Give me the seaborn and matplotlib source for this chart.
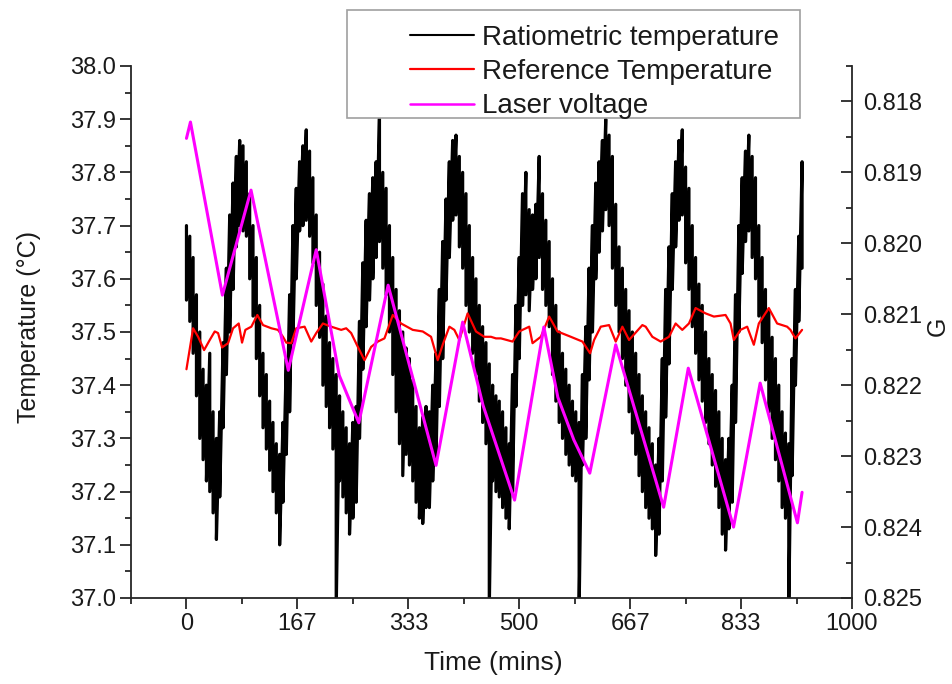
import numpy as np
import pandas as pd
import matplotlib
matplotlib.use("Agg")
import matplotlib.pyplot as plt
from matplotlib.lines import Line2D
from matplotlib.patches import Rectangle
from matplotlib.ticker import MultipleLocator
import seaborn as sns

sns.set_style("ticks")
plt.rcParams['font.family'] = ['Liberation Sans', 'DejaVu Sans']

# Ratiometric temperature (noisy trace) - upper / lower edge of the band every 5 min
ratio_t = np.arange(0, 930, 5)
ratio_hi = [
    37.70, 37.68, 37.64, 37.57, 37.50, 37.43, 37.40, 37.46, 37.35, 37.30,
    37.35, 37.48, 37.62, 37.72, 37.78, 37.83, 37.86, 37.85, 37.82, 37.76,
    37.70, 37.64, 37.55, 37.46, 37.42, 37.37, 37.33, 37.29, 37.27, 37.33,
    37.45, 37.57, 37.70, 37.77, 37.82, 37.85, 37.88, 37.84, 37.79, 37.72,
    37.65, 37.59, 37.53, 37.48, 37.45, 37.42, 37.38, 37.35, 37.32, 37.29,
    37.33, 37.36, 37.52, 37.63, 37.71, 37.76, 37.79, 37.82, 37.91, 37.80,
    37.77, 37.70, 37.64, 37.58, 37.54, 37.50, 37.47, 37.45, 37.41, 37.36,
    37.32, 37.34, 37.36, 37.35, 37.40, 37.46, 37.58, 37.67, 37.75, 37.82,
    37.86, 37.87, 37.83, 37.80, 37.76, 37.70, 37.64, 37.60, 37.55, 37.51,
    37.48, 37.44, 37.40, 37.38, 37.37, 37.35, 37.32, 37.29, 37.42, 37.55,
    37.64, 37.76, 37.80, 37.73, 37.72, 37.74, 37.83, 37.76, 37.71, 37.67,
    37.60, 37.55, 37.50, 37.46, 37.43, 37.40, 37.37, 37.35, 37.33, 37.42,
    37.51, 37.62, 37.70, 37.78, 37.82, 37.86, 37.90, 37.87, 37.83, 37.74,
    37.66, 37.62, 37.58, 37.54, 37.50, 37.46, 37.42, 37.38, 37.35, 37.32,
    37.29, 37.25, 37.30, 37.45, 37.58, 37.66, 37.76, 37.82, 37.86, 37.88,
    37.81, 37.77, 37.70, 37.64, 37.59, 37.55, 37.50, 37.45, 37.42, 37.39,
    37.35, 37.30, 37.26, 37.30, 37.40, 37.57, 37.70, 37.79, 37.84, 37.87,
    37.83, 37.79, 37.70, 37.64, 37.58, 37.54, 37.49, 37.45, 37.40, 37.35,
    37.31, 37.29, 37.45, 37.58, 37.68, 37.82,
]
ratio_lo = [
    37.56, 37.52, 37.46, 37.38, 37.30, 37.26, 37.22, 37.20, 37.16, 37.11,
    37.19, 37.32, 37.42, 37.50, 37.58, 37.66, 37.70, 37.69, 37.68, 37.60,
    37.53, 37.45, 37.38, 37.32, 37.28, 37.24, 37.20, 37.16, 37.10, 37.18,
    37.27, 37.35, 37.48, 37.60, 37.69, 37.70, 37.71, 37.68, 37.63, 37.55,
    37.49, 37.40, 37.36, 37.32, 37.28, 36.98, 37.22, 37.19, 37.16, 37.12,
    37.15, 37.18, 37.30, 37.43, 37.51, 37.56, 37.60, 37.64, 37.67, 37.62,
    37.57, 37.50, 37.42, 37.35, 37.29, 37.23, 37.27, 37.25, 37.22, 37.18,
    37.15, 37.14, 37.17, 37.17, 37.22, 37.26, 37.36, 37.45, 37.56, 37.64,
    37.71, 37.72, 37.66, 37.62, 37.55, 37.50, 37.46, 37.42, 37.37, 37.33,
    37.29, 36.98, 37.22, 37.20, 37.19, 37.17, 37.15, 37.13, 37.20, 37.36,
    37.45, 37.55, 37.57, 37.54, 37.58, 37.60, 37.64, 37.58, 37.55, 37.51,
    37.42, 37.37, 37.33, 37.30, 37.27, 37.25, 37.23, 37.22, 36.98, 37.25,
    37.30, 37.41, 37.50, 37.60, 37.65, 37.69, 37.73, 37.70, 37.62, 37.55,
    37.50, 37.45, 37.40, 37.35, 37.31, 37.27, 37.23, 37.20, 37.17, 37.15,
    37.13, 37.08, 37.12, 37.22, 37.34, 37.44, 37.58, 37.66, 37.71, 37.72,
    37.63, 37.58, 37.51, 37.46, 37.41, 37.37, 37.33, 37.29, 37.25, 37.21,
    37.17, 37.12, 37.09, 37.13, 37.18, 37.33, 37.50, 37.61, 37.67, 37.69,
    37.64, 37.60, 37.53, 37.48, 37.41, 37.35, 37.30, 37.26, 37.22, 37.17,
    37.15, 36.98, 37.23, 37.40, 37.52, 37.62,
]

# Reference temperature
ref_t = [0, 10, 17.5, 26.5, 35, 42.5, 47.5, 53.5, 62.5, 70, 78.5, 83.5, 88.5, 97.5,
         106.5, 115, 127.5, 137.5, 145, 150, 157.5, 165, 177.5, 187.5, 195, 205,
         217.5, 232.5, 240, 247.5, 257.5, 267.5, 277.5, 287.5, 297.5, 310, 322.5,
         340, 355, 367.5, 377.5, 385, 395, 402.5, 410, 422.5, 435, 447.5, 457.5,
         465, 472.5, 490, 500, 515, 520, 532.5, 545, 557.5, 577.5, 595, 606.5,
         612.5, 622.5, 635, 645, 655, 665, 685, 690, 700, 712.5, 725, 735, 745,
         755, 765, 780, 792.5, 810, 817.5, 822.5, 832.5, 842.5, 852.5, 860, 875,
         887.5, 902.5, 907.5, 915, 925]
ref_T = [37.43, 37.507, 37.491, 37.466, 37.485, 37.501, 37.498, 37.471, 37.479,
         37.507, 37.516, 37.48, 37.504, 37.51, 37.532, 37.513, 37.507, 37.504,
         37.491, 37.48, 37.479, 37.507, 37.51, 37.482, 37.498, 37.516, 37.51,
         37.504, 37.507, 37.498, 37.472, 37.447, 37.472, 37.482, 37.488, 37.532,
         37.516, 37.504, 37.501, 37.491, 37.447, 37.476, 37.51, 37.504, 37.485,
         37.535, 37.501, 37.491, 37.491, 37.488, 37.488, 37.482, 37.501, 37.51,
         37.479, 37.491, 37.529, 37.501, 37.491, 37.482, 37.46, 37.485, 37.51,
         37.513, 37.482, 37.51, 37.485, 37.513, 37.51, 37.491, 37.482, 37.491,
         37.516, 37.504, 37.516, 37.545, 37.535, 37.529, 37.532, 37.516, 37.485,
         37.504, 37.51, 37.476, 37.516, 37.545, 37.516, 37.51, 37.504, 37.488,
         37.504]

# Laser voltage (G, right axis)
laser_t = [0, 6, 54, 97, 153, 195, 229.5, 259, 303, 375, 415, 445.5, 493, 537,
           558, 582, 606, 645, 717, 754, 822, 862, 918, 925]
laser_G = [0.81852, 0.81829, 0.82073, 0.81925, 0.82179, 0.82009, 0.82186, 0.82253,
           0.82059, 0.82313, 0.82111, 0.82228, 0.82362, 0.82118, 0.82217, 0.82277,
           0.82324, 0.82143, 0.82372, 0.82176, 0.82400, 0.82197, 0.82394, 0.82351]

x_major = [0, 166.67, 333.33, 500, 666.67, 833.33, 1000]
x_labels = ["0", "167", "333", "500", "667", "833", "1000"]
x_minor = [-83.33, 83.33, 250, 416.67, 583.33, 750, 916.67]

series_names = ["Ratiometric temperature", "Reference Temperature", "Laser voltage"]
series_colors = ["black", "#ff0000", "#ff00ff"]

text_col = "#1a1a1a"

fig = plt.figure(figsize=(9.52, 6.84), dpi=100)
ax = fig.add_axes([131 / 952, 1 - 598 / 684, 721 / 952, 532 / 684])
ax2 = ax.twinx()

# zig-zag between upper and lower edge to draw the noisy band
df_ratio = pd.DataFrame({
    "t": np.repeat(ratio_t, 2),
    "T": np.column_stack([ratio_hi, ratio_lo]).ravel(),
})
sns.lineplot(data=df_ratio, x="t", y="T", ax=ax, color=series_colors[0],
             lw=2.3, sort=False, estimator=None)
sns.lineplot(x=ref_t, y=ref_T, ax=ax, color=series_colors[1], lw=1.6, sort=False)
sns.lineplot(x=laser_t, y=laser_G, ax=ax2, color=series_colors[2], lw=2.2, sort=False)

ax.set_xlim(-83.33, 1000)
ax.set_ylim(37.0, 38.0)
ax2.set_ylim(0.825, 0.8175)

ax.set_xticks(x_major)
ax.set_xticklabels(x_labels)
ax.set_xticks(x_minor, minor=True)
ax.set_yticks(np.round(np.arange(37.0, 38.01, 0.1), 1))
ax.set_yticklabels([f"{v:.1f}" for v in np.arange(37.0, 38.01, 0.1)])
ax.yaxis.set_minor_locator(MultipleLocator(0.05))
g_ticks = [0.818, 0.819, 0.820, 0.821, 0.822, 0.823, 0.824, 0.825]
ax2.set_yticks(g_ticks)
ax2.set_yticklabels([f"{v:.3f}" for v in g_ticks])
ax2.yaxis.set_minor_locator(MultipleLocator(0.0005))

ax.tick_params(which="major", direction="out", length=8, width=1.3,
               labelsize=17, labelcolor=text_col, pad=3)
ax.tick_params(which="minor", direction="out", length=4.5, width=1.3)
ax2.tick_params(which="major", direction="in", length=8, width=1.3,
                labelsize=17, labelcolor=text_col, pad=8)
ax2.tick_params(which="minor", direction="in", length=4.5, width=1.3)

for s in ["top", "right"]:
    ax.spines[s].set_visible(False)
for s in ["top", "left", "bottom"]:
    ax2.spines[s].set_visible(False)
for s in ["left", "bottom"]:
    ax.spines[s].set_linewidth(1.3)
ax2.spines["right"].set_linewidth(1.3)

ax.set_xlabel("Time (mins)", fontsize=19, color=text_col)
ax.set_ylabel("Temperature (°C)", fontsize=18, color=text_col)
ax2.set_ylabel("G", fontsize=18, color=text_col)
ax.xaxis.set_label_coords(0.503, -0.1)
ax.yaxis.set_label_coords(-0.125, 0.51)
ax2.yaxis.set_label_coords(1.102, 0.51)

# legend box sits partly above the axes
box = Rectangle((347 / 952, 1 - 118 / 684), (800 - 347) / 952, (118 - 10) / 684,
                transform=fig.transFigure, facecolor="white", edgecolor="#a0a0a0",
                lw=1.2, zorder=4, clip_on=False)
ax2.add_artist(box)
handles = [Line2D([0], [0], color=c, lw=w) for c, w in zip(series_colors, [1.5, 1.6, 1.8])]
leg = ax2.legend(handles, series_names, loc="center left",
                 bbox_to_anchor=(410 / 952, 1 - 72 / 684), bbox_transform=fig.transFigure,
                 frameon=False, fontsize=20, handlelength=2.3, handletextpad=0.3,
                 labelspacing=0.3, borderpad=0, borderaxespad=0)
leg.set_zorder(6)
for txt in leg.get_texts():
    txt.set_color(text_col)

fig.savefig("out.png", dpi=100)
